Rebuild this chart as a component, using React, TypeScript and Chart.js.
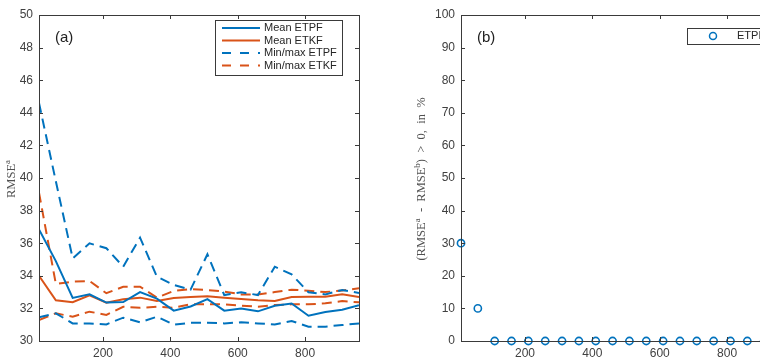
import React, { useEffect, useRef } from "react";
import { Chart, registerables } from "chart.js";

Chart.register(...registerables);

// ---------- data ----------
const ensembleSizes = [10, 60, 110, 160, 210, 260, 310, 360, 410, 460, 510, 560, 610, 660, 710, 760, 810, 860, 910, 960];
const meanETPF = [36.85, 34.9, 32.64, 32.86, 32.36, 32.39, 33.0, 32.6, 31.86, 32.12, 32.57, 31.86, 32.0, 31.82, 32.16, 32.3, 31.55, 31.78, 31.92, 32.2];
const meanETKF = [34.0, 32.5, 32.38, 32.8, 32.35, 32.56, 32.66, 32.45, 32.64, 32.7, 32.74, 32.66, 32.58, 32.5, 32.45, 32.7, 32.72, 32.72, 32.86, 32.7];
const minETPF = [31.45, 31.7, 31.08, 31.08, 31.02, 31.43, 31.15, 31.49, 31.0, 31.12, 31.12, 31.08, 31.15, 31.08, 31.02, 31.23, 30.88, 30.88, 30.98, 31.08];
const maxETPF = [44.6, 39.8, 35.07, 35.99, 35.69, 34.56, 36.34, 33.95, 33.44, 33.15, 35.32, 32.82, 32.99, 32.82, 34.56, 34.09, 32.99, 32.86, 33.13, 32.95];
const minETKF = [31.29, 31.7, 31.49, 31.8, 31.6, 32.1, 32.04, 32.1, 32.04, 32.25, 32.25, 32.25, 32.17, 32.1, 32.21, 32.25, 32.25, 32.31, 32.45, 32.37];
const maxETKF = [39.1, 33.5, 33.64, 33.68, 32.93, 33.33, 33.33, 32.66, 33.07, 33.19, 33.13, 33.03, 32.86, 32.85, 33.0, 33.15, 33.09, 33.0, 33.1, 33.23];
const pctPositiveETPF = [30, 10, 0, 0, 0, 0, 0, 0, 0, 0, 0, 0, 0, 0, 0, 0, 0, 0, 0, 0];

const xTickValues = [200, 400, 600, 800];
const yTickValuesA = [30, 32, 34, 36, 38, 40, 42, 44, 46, 48, 50];
const yTickValuesB = [0, 10, 20, 30, 40, 50, 60, 70, 80, 90, 100];

const BLUE = "#0072BD";
const ORANGE = "#D95319";
const AXIS = "#3a3a3a";
const TEXT = "#404040";
const SANS = "'Liberation Sans', Arial, Helvetica, sans-serif";
const SERIF = "'Liberation Serif', 'DejaVu Serif', serif";

const pts = (ys: number[]) => ensembleSizes.map((x, i) => ({ x, y: ys[i] }));

type Part = { t: string; sup?: boolean };

function drawRotatedRich(ctx: CanvasRenderingContext2D, parts: Part[], cx: number, cy: number, fs: number) {
  const supFs = fs * 0.72;
  ctx.save();
  ctx.translate(cx, cy);
  ctx.rotate(-Math.PI / 2);
  ctx.fillStyle = "#505050";
  ctx.textBaseline = "alphabetic";
  ctx.textAlign = "left";
  let total = 0;
  const widths = parts.map((p) => {
    ctx.font = `${p.sup ? supFs : fs}px ${SERIF}`;
    const w = ctx.measureText(p.t).width;
    total += w;
    return w;
  });
  let x = -total / 2;
  const base = fs * 0.35;
  parts.forEach((p, i) => {
    ctx.font = `${p.sup ? supFs : fs}px ${SERIF}`;
    ctx.fillText(p.t, x, p.sup ? base - fs * 0.45 : base);
    x += widths[i];
  });
  ctx.restore();
}

type LegendItem = { label: string; color: string; dash?: number[]; marker?: boolean };

function framePlugin(opts: {
  panel: string;
  yTicks: number[];
  title: Part[];
  titleX: number;
  titleFs: number;
  legend: LegendItem[];
  legendBox: { x1: number; y1: number; x2: number; y2: number; sampleX1: number; sampleX2: number; textX: number; rows: number[] };
}) {
  return {
    id: "frame" + opts.panel,
    afterDraw(chart: any) {
      const ctx: CanvasRenderingContext2D = chart.ctx;
      const { left, right, top, bottom } = chart.chartArea;
      const xs = chart.scales.x;
      const ys = chart.scales.y;
      ctx.save();
      // box
      ctx.strokeStyle = AXIS;
      ctx.lineWidth = 1;
      ctx.setLineDash([]);
      ctx.strokeRect(left + 0.5, top + 0.5, right - left, bottom - top);
      // inward ticks
      const tl = 4;
      ctx.beginPath();
      xTickValues.forEach((v) => {
        const px = Math.round(xs.getPixelForValue(v)) + 0.5;
        ctx.moveTo(px, bottom);
        ctx.lineTo(px, bottom - tl);
        ctx.moveTo(px, top);
        ctx.lineTo(px, top + tl);
      });
      opts.yTicks.forEach((v) => {
        const py = Math.round(ys.getPixelForValue(v)) + 0.5;
        ctx.moveTo(left, py);
        ctx.lineTo(left + tl, py);
        ctx.moveTo(right, py);
        ctx.lineTo(right - tl, py);
      });
      ctx.stroke();

      // panel label
      ctx.fillStyle = "#222";
      ctx.font = `15px ${SANS}`;
      ctx.textBaseline = "middle";
      ctx.textAlign = "left";
      ctx.fillText(`(${opts.panel})`, left + 16, top + 23);

      // legend
      const lb = opts.legendBox;
      ctx.fillStyle = "#fff";
      ctx.fillRect(lb.x1, lb.y1, lb.x2 - lb.x1, lb.y2 - lb.y1);
      ctx.strokeStyle = AXIS;
      ctx.lineWidth = 1;
      ctx.strokeRect(lb.x1 + 0.5, lb.y1 + 0.5, lb.x2 - lb.x1, lb.y2 - lb.y1);
      opts.legend.forEach((it, i) => {
        const y = lb.rows[i];
        if (it.marker) {
          ctx.setLineDash([]);
          ctx.strokeStyle = it.color;
          ctx.lineWidth = 1.5;
          ctx.beginPath();
          ctx.arc((lb.sampleX1 + lb.sampleX2) / 2, y, 3.5, 0, Math.PI * 2);
          ctx.stroke();
        } else {
          ctx.setLineDash(it.dash || []);
          ctx.strokeStyle = it.color;
          ctx.lineWidth = 2;
          ctx.beginPath();
          ctx.moveTo(lb.sampleX1, y);
          ctx.lineTo(lb.sampleX2, y);
          ctx.stroke();
          ctx.setLineDash([]);
        }
        ctx.fillStyle = "#262626";
        ctx.font = `11px ${SANS}`;
        ctx.textBaseline = "middle";
        ctx.textAlign = "left";
        ctx.fillText(it.label, lb.textX, y);
      });

      // y title
      drawRotatedRich(ctx, opts.title, opts.titleX, (top + bottom) / 2 + 1, opts.titleFs);
      ctx.restore();
    },
  };
}

function commonScales(yMin: number, yMax: number, yTicks: number[], yWidth: number) {
  return {
    x: {
      type: "linear" as const,
      min: 10,
      max: 960,
      afterBuildTicks: (s: any) => {
        s.ticks = xTickValues.map((v) => ({ value: v }));
      },
      afterFit: (s: any) => {
        s.height = 21;
      },
      grid: { display: false, drawTicks: false },
      border: { display: false },
      ticks: { padding: 5, color: TEXT, font: { family: SANS, size: 12 }, maxRotation: 0, autoSkip: false },
    },
    y: {
      type: "linear" as const,
      min: yMin,
      max: yMax,
      afterBuildTicks: (s: any) => {
        s.ticks = yTicks.map((v) => ({ value: v }));
      },
      afterFit: (s: any) => {
        s.width = yWidth;
      },
      grid: { display: false, drawTicks: false },
      border: { display: false },
      ticks: { padding: 6, color: TEXT, font: { family: SANS, size: 12 }, autoSkip: false },
    },
  };
}

export default function App() {
  const refA = useRef<HTMLCanvasElement>(null);
  const refB = useRef<HTMLCanvasElement>(null);

  useEffect(() => {
    const dash = [10, 6];
    const lineDs = (label: string, data: number[], color: string, dashed: boolean) => ({
      label,
      data: pts(data),
      borderColor: color,
      backgroundColor: color,
      borderWidth: 2,
      borderDash: dashed ? dash : [],
      pointRadius: 0,
      tension: 0,
      fill: false,
    });

    const chartA = new Chart(refA.current!, {
      type: "line",
      data: {
        datasets: [
          lineDs("Mean ETPF", meanETPF, BLUE, false),
          lineDs("Mean ETKF", meanETKF, ORANGE, false),
          lineDs("Min ETPF", minETPF, BLUE, true),
          lineDs("Max ETPF", maxETPF, BLUE, true),
          lineDs("Min ETKF", minETKF, ORANGE, true),
          lineDs("Max ETKF", maxETKF, ORANGE, true),
        ],
      },
      options: {
        animation: false,
        responsive: false,
        events: [],
        layout: { padding: { left: 0, right: 21, top: 15, bottom: 0 } },
        plugins: { legend: { display: false }, tooltip: { enabled: false } },
        scales: commonScales(30, 50, yTickValuesA, 39),
      },
      plugins: [
        framePlugin({
          panel: "a",
          yTicks: yTickValuesA,
          title: [{ t: "RMSE" }, { t: "a", sup: true }],
          titleX: 11,
          titleFs: 12.5,
          legend: [
            { label: "Mean ETPF", color: BLUE },
            { label: "Mean ETKF", color: ORANGE },
            { label: "Min/max ETPF", color: BLUE, dash: [9, 9] },
            { label: "Min/max ETKF", color: ORANGE, dash: [9, 9] },
          ],
          legendBox: { x1: 215, y1: 20, x2: 342, y2: 75, sampleX1: 222, sampleX2: 260, textX: 264, rows: [28, 40.5, 53, 65.5] },
        }),
      ],
    });

    const chartB = new Chart(refB.current!, {
      type: "scatter",
      data: {
        datasets: [
          {
            label: "ETPF",
            data: pts(pctPositiveETPF),
            borderColor: BLUE,
            backgroundColor: "rgba(255,255,255,0)",
            pointRadius: 3.6,
            pointBorderWidth: 1.6,
            pointStyle: "circle",
            showLine: false,
            clip: false as any,
          },
        ],
      },
      options: {
        animation: false,
        responsive: false,
        events: [],
        layout: { padding: { left: 0, right: 21, top: 15, bottom: 0 } },
        plugins: { legend: { display: false }, tooltip: { enabled: false } },
        scales: commonScales(0, 100, yTickValuesB, 81),
      },
      plugins: [
        framePlugin({
          panel: "b",
          yTicks: yTickValuesB,
          title: [
            { t: "(RMSE" },
            { t: "a", sup: true },
            { t: "  -  RMSE" },
            { t: "b", sup: true },
            { t: ")  >  0,  in  %" },
          ],
          titleX: 41,
          titleFs: 12.5,
          legend: [{ label: "ETPF", color: BLUE, marker: true }],
          legendBox: { x1: 307, y1: 28, x2: 400, y2: 44, sampleX1: 323, sampleX2: 343, textX: 357, rows: [36] },
        }),
      ],
    });

    return () => {
      chartA.destroy();
      chartB.destroy();
    };
  }, []);

  return (
    <div
      style={{
        position: "fixed",
        left: 0,
        top: 0,
        width: 760,
        height: 362,
        overflow: "hidden",
        background: "#fff",
      }}
    >
      <canvas ref={refA} width={380} height={362} style={{ position: "absolute", left: 0, top: 0, width: 380, height: 362 }} />
      <canvas ref={refB} width={422} height={362} style={{ position: "absolute", left: 380, top: 0, width: 422, height: 362 }} />
    </div>
  );
}
